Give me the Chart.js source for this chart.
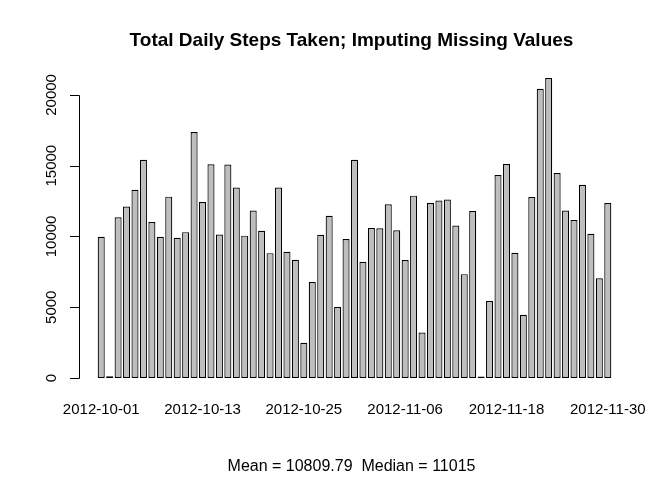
<!DOCTYPE html>
<html>
<head>
<meta charset="utf-8">
<script src="https://cdn.jsdelivr.net/npm/chart.js@4"></script>
<style>
  html, body { margin: 0; padding: 0; background: #fff; }
  #wrap { width: 672px; height: 480px; }
</style>
</head>
<body>
<div id="wrap"><canvas id="steps"></canvas></div>
<script>
let days = [
    "2012-10-01", "2012-10-02", "2012-10-03", "2012-10-04", "2012-10-05", "2012-10-06", "2012-10-07",
    "2012-10-08", "2012-10-09", "2012-10-10", "2012-10-11", "2012-10-12", "2012-10-13", "2012-10-14",
    "2012-10-15", "2012-10-16", "2012-10-17", "2012-10-18", "2012-10-19", "2012-10-20", "2012-10-21",
    "2012-10-22", "2012-10-23", "2012-10-24", "2012-10-25", "2012-10-26", "2012-10-27", "2012-10-28",
    "2012-10-29", "2012-10-30", "2012-10-31", "2012-11-01", "2012-11-02", "2012-11-03", "2012-11-04",
    "2012-11-05", "2012-11-06", "2012-11-07", "2012-11-08", "2012-11-09", "2012-11-10", "2012-11-11",
    "2012-11-12", "2012-11-13", "2012-11-14", "2012-11-15", "2012-11-16", "2012-11-17", "2012-11-18",
    "2012-11-19", "2012-11-20", "2012-11-21", "2012-11-22", "2012-11-23", "2012-11-24", "2012-11-25",
    "2012-11-26", "2012-11-27", "2012-11-28", "2012-11-29", "2012-11-30"
]
let steps = [
    9975, 126, 11352, 12116, 13294, 15420, 11015,
    9975, 12811, 9900, 10304, 17382, 12426, 15098,
    10139, 15084, 13452, 10056, 11829, 10395, 8821,
    13460, 8918, 8355, 2492, 6778, 10119, 11458,
    5018, 9819, 15414, 8213, 10600, 10571, 12278,
    10439, 8334, 12883, 3219, 12360, 12535, 12608,
    10765, 7336, 11791, 41, 5441, 14339, 15110,
    8841, 4472, 12787, 20427, 21194, 14478, 11834,
    11162, 13646, 10183, 7047, 12360
]
let y_ticks = [0, 5000, 10000, 15000, 20000]
let label_every = 12

let title_text = "Total Daily Steps Taken; Imputing Missing Values"
let sub_text = "Mean = 10809.79  Median = 11015"
let font_family = "'Liberation Sans', Arial, Helvetica, sans-serif"

// R style y axis + title/sub drawn on top
let rAxis = {
    id: "rAxis",
    afterDraw(chart) {
        let ctx = chart.ctx
        let ys = chart.scales.y
        let area = chart.chartArea
        let ax = 79
        ctx.save()
        ctx.strokeStyle = "#000"
        ctx.lineWidth = 1
        ctx.beginPath()
        ctx.moveTo(ax + 0.5, Math.round(ys.getPixelForValue(y_ticks[0])) + 0.5)
        ctx.lineTo(ax + 0.5, Math.round(ys.getPixelForValue(y_ticks[y_ticks.length - 1])) + 0.5)
        y_ticks.forEach(v => {
            let py = Math.round(ys.getPixelForValue(v)) + 0.5
            ctx.moveTo(ax + 0.5, py)
            ctx.lineTo(ax - 9, py)
        })
        ctx.stroke()

        ctx.fillStyle = "#000"
        ctx.font = "15px " + font_family
        ctx.textAlign = "center"
        ctx.textBaseline = "middle"
        y_ticks.forEach(v => {
            let py = ys.getPixelForValue(v)
            ctx.save()
            ctx.translate(52, py)
            ctx.rotate(-Math.PI / 2)
            ctx.fillText(String(v), 0, 0)
            ctx.restore()
        })

        let cx = (area.left + area.right) / 2 - 3
        ctx.font = "bold 19px " + font_family
        ctx.fillText(title_text, cx, 41)
        ctx.font = "16px " + font_family
        ctx.fillText(sub_text, cx, 467)
        ctx.restore()
    }
}

let ctx1 = document.getElementById("steps").getContext("2d")
new Chart(ctx1, {
    type: "bar",
    data: {
        labels: days,
        datasets: [{
            data: steps,
            backgroundColor: "#bebebe",
            borderColor: "#000",
            borderWidth: 1.2,
            borderSkipped: false,
            minBarLength: 1.5,
            barPercentage: 1,
            categoryPercentage: 1 / 1.2
        }]
    },
    options: {
        responsive: true,
        maintainAspectRatio: false,
        animation: false,
        layout: {
            padding: { left: 97, right: 60, top: 66, bottom: 58 }
        },
        plugins: {
            legend: { display: false },
            tooltip: { enabled: false }
        },
        scales: {
            x: {
                offset: true,
                grid: { display: false },
                border: { display: false },
                ticks: {
                    autoSkip: false,
                    maxRotation: 0,
                    minRotation: 0,
                    padding: 3,
                    color: "#000",
                    font: { family: font_family, size: 15 },
                    callback: function (val, i) {
                        return i % label_every === 0 ? days[i] : ""
                    }
                }
            },
            y: {
                display: false,
                min: -848,
                max: 22042
            }
        }
    },
    plugins: [rAxis]
})
</script>
</body>
</html>
